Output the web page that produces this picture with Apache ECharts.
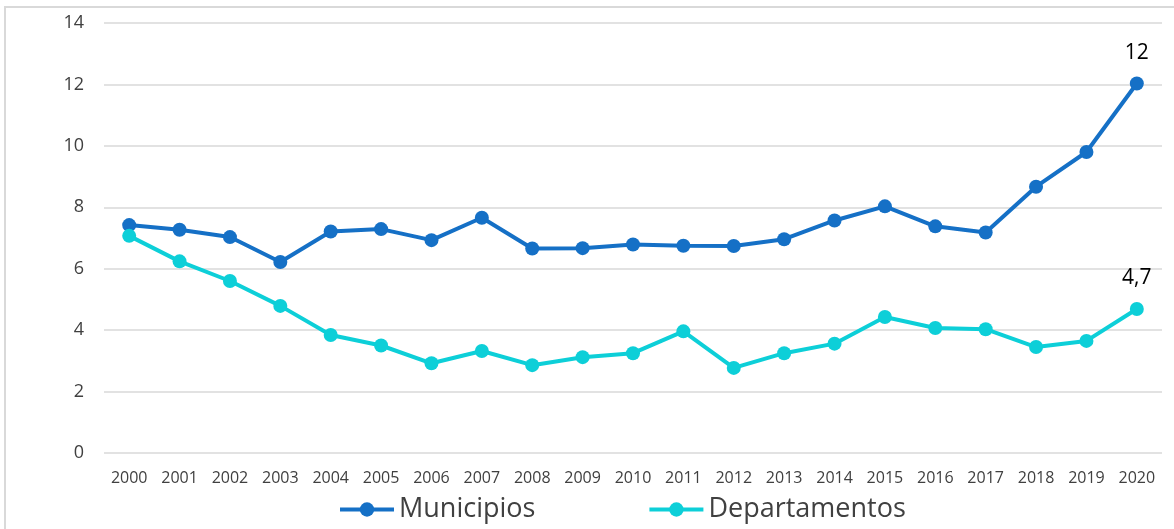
<!DOCTYPE html>
<html>
<head>
<meta charset="utf-8">
<script src="https://cdn.jsdelivr.net/npm/echarts@6/dist/echarts.min.js"></script>
<style>
  html, body { margin: 0; padding: 0; background: #fff; }
  #chart { width: 1174px; height: 529px; }
</style>
</head>
<body>
<div id="chart"></div>
<script>
const years = ['2000', '2001', '2002', '2003', '2004', '2005', '2006', '2007', '2008', '2009', '2010',
    '2011', '2012', '2013', '2014', '2015', '2016', '2017', '2018', '2019', '2020'];
const municipios = [7.42, 7.27, 7.03, 6.22, 7.21, 7.29, 6.93, 7.66, 6.66, 6.67, 6.79,
    6.75, 6.74, 6.96, 7.57, 8.03, 7.38, 7.18, 8.67, 9.8, 12.03];
const departamentos = [7.07, 6.24, 5.6, 4.79, 3.84, 3.5, 2.92, 3.32, 2.86, 3.12, 3.25,
    3.96, 2.77, 3.25, 3.56, 4.43, 4.07, 4.03, 3.45, 3.65, 4.69];
const lastLabels = { municipios: '12', departamentos: '4,7' };

const theme = {
    colors: {
        municipios: '#1570C6',
        departamentos: '#0DCFD8',
        grid: '#D9D9D9',
        text: '#404040',
        label: '#000000',
    },
    font: '"Open Sans", "Noto Sans", sans-serif',
};

const chart = echarts.init(document.getElementById('chart'));

// only the last point gets a value label
const lastLabel = (text) => ({
    show: true,
    position: 'top',
    distance: 13,
    fontSize: 21,
    color: theme.colors.label,
    fontFamily: theme.font,
    formatter: (p) => (p.dataIndex === years.length - 1 ? text : ''),
});

const makeSeries = (name, data, color, text) => ({
    name,
    type: 'line',
    data,
    symbol: 'circle',
    symbolSize: 14,
    itemStyle: { color },
    lineStyle: { color, width: 4 },
    label: lastLabel(text),
    silent: true,
    animation: false,
});

chart.setOption({
    backgroundColor: '#fff',
    textStyle: { fontFamily: theme.font },
    graphic: [{
        type: 'rect',
        shape: { x: 5, y: 7, width: 1200, height: 560 },
        style: { fill: 'none', stroke: theme.colors.grid, lineWidth: 2 },
        silent: true,
    }],
    grid: { left: 104, right: 12, top: 23, bottom: 76 },
    legend: {
        data: ['Municipios', 'Departamentos'],
        left: 333,
        top: 491,
        itemWidth: 54,
        itemHeight: 18,
        itemGap: 112,
        lineStyle: { width: 4 },
        textStyle: { color: theme.colors.text, fontSize: 27, fontFamily: theme.font },
    },
    xAxis: {
        type: 'category',
        data: years,
        boundaryGap: true,
        axisLine: { show: false },
        axisTick: { show: false },
        axisLabel: { color: theme.colors.text, fontSize: 16, margin: 17, fontFamily: theme.font },
    },
    yAxis: {
        type: 'value',
        min: 0,
        max: 14,
        interval: 2,
        axisLine: { show: false },
        axisTick: { show: false },
        axisLabel: { color: theme.colors.text, fontSize: 18, margin: 20, fontFamily: theme.font },
        splitLine: { lineStyle: { color: theme.colors.grid, width: 1.5 } },
    },
    series: [
        makeSeries('Municipios', municipios, theme.colors.municipios, lastLabels.municipios),
        makeSeries('Departamentos', departamentos, theme.colors.departamentos, lastLabels.departamentos),
    ],
});
</script>
</body>
</html>
